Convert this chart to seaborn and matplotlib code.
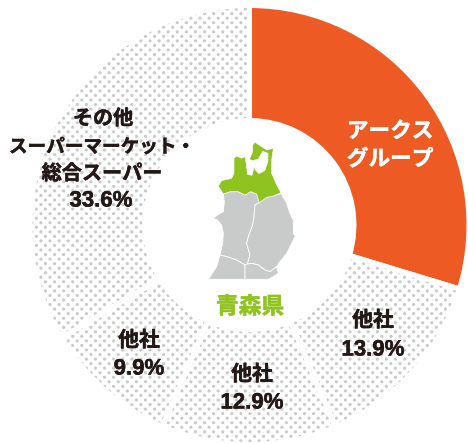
import matplotlib
matplotlib.use('Agg')
import matplotlib.pyplot as plt
import matplotlib.hatch as mhatch
import matplotlib.patheffects as pe
from matplotlib.patches import Polygon
from matplotlib.path import Path
import numpy as np
import seaborn as sns

# share by company, clockwise from 12 o'clock
names = ['アークス\nグループ', '他社', '他社', '他社', 'その他\nスーパーマーケット・\n総合スーパー']
shares = [29.7, 13.9, 12.9, 9.9, 33.6]
pie_colors = ['#ee5a24', '#ffffff', '#ffffff', '#ffffff', '#ffffff']
title = '青森県'

# map outlines (zoomed crop px)
aomori = [(265,228),(275,212),(305,205),(312,190),(312,145),(320,138),(335,145),(345,140),(350,170),(352,193),
          (366,196),(372,172),(378,182),(387,191),(404,182),(414,155),(414,130),(398,124),(385,147),(368,152),(358,148),
          (368,125),(368,105),(375,97),(395,110),(410,120),(430,115),(425,150),(425,190),(440,225),(453,248),
          (430,258),(410,262),(388,278),(380,252),(362,245),(345,255),(325,245),(300,245),(280,252)]
akita = [(280,252),(300,245),(325,245),(345,255),(362,245),(380,252),(388,278),(375,285),(372,320),(368,345),
         (355,380),(350,400),(360,435),(352,462),(345,465),(320,450),(290,440),(270,435),(278,400),(280,370),
         (275,345),(262,330),(250,325),(262,315),(280,305),(283,275)]
iwate = [(388,278),(410,262),(430,258),(453,250),(470,280),(480,310),(490,330),(490,370),(496,378),(480,410),
         (470,430),(450,455),(440,470),(420,485),(405,480),(385,465),(365,460),(352,462),(360,435),(350,400),(355,380),
         (368,345),(372,320),(375,285)]
yamagata = [(270,435),(290,440),(320,450),(345,465),(345,480),(345,508),(235,508),(260,470)]
miyagi = [(345,465),(352,462),(365,460),(385,465),(405,480),(420,485),(440,470),(445,490),(430,500),(415,508),(345,508)]


class DiagonalDots(mhatch.HatchPatternBase):
    # 45 degree dot screen, mark is the letter d in the hatch string
    def __init__(self, hatch, density):
        self.rows = hatch.count('d') * 11
        self.circle = Path.unit_circle()
        self.num_vertices = 0 if self.rows == 0 else ((self.rows + 1) ** 2 + self.rows ** 2) * len(self.circle.vertices)

    def set_vertices_and_codes(self, vertices, codes):
        step = 1.0 / self.rows
        pts = [(i * step, j * step) for i in range(self.rows + 1) for j in range(self.rows + 1)]
        pts += [((i + 0.5) * step, (j + 0.5) * step) for i in range(self.rows) for j in range(self.rows)]
        k = len(self.circle.vertices)
        for n, (x, y) in enumerate(pts):
            vertices[n * k:(n + 1) * k] = self.circle.vertices * 0.016 + (x, y)
            codes[n * k:(n + 1) * k] = self.circle.codes


mhatch._hatch_types.append(DiagonalDots)

sns.set_theme(style='white')
plt.rcParams['font.family'] = ['Noto Sans CJK JP', 'DejaVu Sans']
plt.rcParams['hatch.linewidth'] = 0

fig = plt.figure(figsize=(4.68, 4.44), dpi=100)
ax = fig.add_axes([0, 0, 1, 1])

center = (249.5, 444 - 225)
# dotted fill first, then the white gaps on top (hatch takes the edge colour)
wedges, _ = ax.pie(shares, colors=pie_colors, startangle=90, counterclock=False, center=center, radius=219.5,
                   wedgeprops={'width': 115, 'linewidth': 0, 'edgecolor': '#c9caca'}, frame=True)
for w in wedges[1:]:
    w.set_hatch('d')
ax.pie(shares, colors=['none'] * 5, startangle=90, counterclock=False, center=center, radius=219.5,
       wedgeprops={'width': 115, 'linewidth': 3.6, 'edgecolor': 'white'}, frame=True)
ax.set_xlim(0, 468)
ax.set_ylim(0, 444)
ax.set_aspect('equal')
ax.axis('off')


def to_axes(points):
    xy = np.array(points, dtype=float)
    return np.column_stack([130 + xy[:, 0] / 3, 444 - (110 + xy[:, 1] / 3)])


for shape in [akita, iwate, yamagata, miyagi]:
    ax.add_patch(Polygon(to_axes(shape), closed=True, fc='#c9caca', ec='white', lw=0.6, zorder=5))
ax.add_patch(Polygon(to_axes(aomori), closed=True, fc='#8fc31f', ec='white', lw=0.4, zorder=6))

dark = '#231815'


def label(x, y, s, size, color=dark, latin=False):
    family = ['Liberation Sans', 'Noto Sans CJK JP'] if latin else ['Noto Sans CJK JP', 'DejaVu Sans']
    t = ax.text(x, 444 - y - 2, s, color=color, fontsize=size, fontweight='bold', family=family, ha='center',
                va='center', zorder=7)
    t.set_path_effects([pe.withStroke(linewidth=0.35, foreground=color)])


arks = names[0].split('\n')
label(390, 129, arks[0], 15.6, color='white')
label(390, 157, arks[1], 15.6, color='white')

label(373, 318, names[1], 15)
label(373, 348, f'{shares[1]}%', 16, latin=True)
label(252, 372, names[2], 15)
label(252, 401, f'{shares[2]}%', 16, latin=True)
label(139, 338, names[3], 15)
label(139, 367, f'{shares[3]}%', 16, latin=True)

other = names[4].split('\n')
label(103, 116, other[0], 14.5)
label(102, 145, other[1], 13.4)
label(102, 171, other[2], 14.5)
label(101, 199, f'{shares[4]}%', 16, latin=True)

label(250, 305, title, 16.4, color='#8fc31f')

fig.savefig('out.png', dpi=100)
